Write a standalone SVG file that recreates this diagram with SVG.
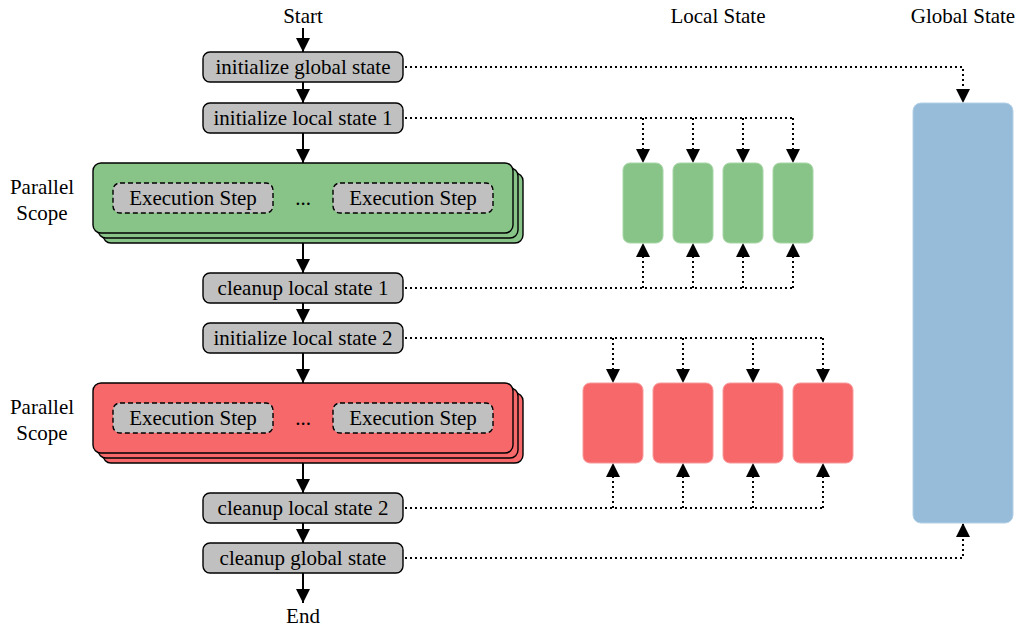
<svg xmlns="http://www.w3.org/2000/svg" width="1019" height="628" viewBox="0 0 1019 628">
  <style>
    text { font-family: "Liberation Serif", "DejaVu Serif", serif; font-size: 21px; fill: #000; }
    .c { text-anchor: middle; }
    .step { fill: #c0c0c0; stroke: #000; stroke-width: 1.4; }
    .exec { fill: #c0c0c0; stroke: #000; stroke-width: 1.4; stroke-dasharray: 5 3; }
    .scope-g { fill: #88c488; stroke: #000; stroke-width: 1.4; }
    .scope-r { fill: #f6686a; stroke: #000; stroke-width: 1.4; }
    .loc-g { fill: #88c488; stroke: #a6d6a6; stroke-width: 1; }
    .loc-r { fill: #f6686a; stroke: #f89a9a; stroke-width: 1; }
    .glob { fill: #96bcd9; stroke: #b2d0e6; stroke-width: 1; }
    .flow { fill: none; stroke: #000; stroke-width: 2; }
    .dot { fill: none; stroke: #000; stroke-width: 2; stroke-dasharray: 2 3; }
  </style>
  <defs>
    <!-- filled triangular arrowhead shared by all connectors -->
    <marker id="head" viewBox="0 0 10 10" refX="10" refY="5" markerWidth="14" markerHeight="14" markerUnits="userSpaceOnUse" orient="auto">
      <path d="M0,0 L10,5 L0,10 Z" fill="#000"/>
    </marker>
  </defs>

  <!-- headings -->
  <text class="c" x="303" y="23">Start</text>
  <text class="c" x="303" y="623">End</text>
  <text class="c" x="718" y="23">Local State</text>
  <text class="c" x="963" y="23">Global State</text>

  <!-- connectors -->
  <g id="connectors">
    <!-- main control flow -->
    <path class="flow" d="M303,28 V52" marker-end="url(#head)"/>
    <path class="flow" d="M303,82 V103" marker-end="url(#head)"/>
    <path class="flow" d="M303,133 V163" marker-end="url(#head)"/>
    <path class="flow" d="M303,243 V273" marker-end="url(#head)"/>
    <path class="flow" d="M303,303 V323" marker-end="url(#head)"/>
    <path class="flow" d="M303,353 V383" marker-end="url(#head)"/>
    <path class="flow" d="M303,463 V493" marker-end="url(#head)"/>
    <path class="flow" d="M303,523 V543" marker-end="url(#head)"/>
    <path class="flow" d="M303,573 V603" marker-end="url(#head)"/>

    <!-- global state links -->
    <path class="dot" d="M405,67 H963 V103" marker-end="url(#head)"/>
    <path class="dot" d="M405,558 H963 V523" marker-end="url(#head)"/>

    <!-- local state 1 links -->
    <path class="dot" d="M405,118 H793"/>
    <path class="dot" d="M643,118 V163" marker-end="url(#head)"/>
    <path class="dot" d="M693,118 V163" marker-end="url(#head)"/>
    <path class="dot" d="M743,118 V163" marker-end="url(#head)"/>
    <path class="dot" d="M793,118 V163" marker-end="url(#head)"/>
    <path class="dot" d="M405,288 H793"/>
    <path class="dot" d="M643,288 V243" marker-end="url(#head)"/>
    <path class="dot" d="M693,288 V243" marker-end="url(#head)"/>
    <path class="dot" d="M743,288 V243" marker-end="url(#head)"/>
    <path class="dot" d="M793,288 V243" marker-end="url(#head)"/>

    <!-- local state 2 links -->
    <path class="dot" d="M405,338 H823"/>
    <path class="dot" d="M613,338 V383" marker-end="url(#head)"/>
    <path class="dot" d="M683,338 V383" marker-end="url(#head)"/>
    <path class="dot" d="M753,338 V383" marker-end="url(#head)"/>
    <path class="dot" d="M823,338 V383" marker-end="url(#head)"/>
    <path class="dot" d="M405,508 H823"/>
    <path class="dot" d="M613,508 V463" marker-end="url(#head)"/>
    <path class="dot" d="M683,508 V463" marker-end="url(#head)"/>
    <path class="dot" d="M753,508 V463" marker-end="url(#head)"/>
    <path class="dot" d="M823,508 V463" marker-end="url(#head)"/>
  </g>

  <!-- sequential steps -->
  <g id="init-global">
    <rect class="step" x="203" y="52" width="200" height="30" rx="7"/>
    <text class="c" x="303" y="74">initialize global state</text>
  </g>
  <g id="init-local-1">
    <rect class="step" x="203" y="103" width="200" height="30" rx="7"/>
    <text class="c" x="303" y="125">initialize local state 1</text>
  </g>
  <g id="cleanup-local-1">
    <rect class="step" x="203" y="273" width="200" height="30" rx="7"/>
    <text class="c" x="303" y="295">cleanup local state 1</text>
  </g>
  <g id="init-local-2">
    <rect class="step" x="203" y="323" width="200" height="30" rx="7"/>
    <text class="c" x="303" y="345">initialize local state 2</text>
  </g>
  <g id="cleanup-local-2">
    <rect class="step" x="203" y="493" width="200" height="30" rx="7"/>
    <text class="c" x="303" y="515">cleanup local state 2</text>
  </g>
  <g id="cleanup-global">
    <rect class="step" x="203" y="543" width="200" height="30" rx="7"/>
    <text class="c" x="303" y="565">cleanup global state</text>
  </g>

  <!-- parallel scope 1 -->
  <g id="scope-1">
    <text class="c" x="42" y="194">Parallel</text>
    <text class="c" x="42" y="220">Scope</text>
    <rect class="scope-g" x="103" y="173" width="420" height="70" rx="8"/>
    <rect class="scope-g" x="98" y="168" width="420" height="70" rx="8"/>
    <rect class="scope-g" x="93" y="163" width="420" height="70" rx="8"/>
    <rect class="exec" x="113" y="183" width="160" height="30" rx="7"/>
    <text class="c" x="193" y="205">Execution Step</text>
    <text class="c" x="303" y="205">...</text>
    <rect class="exec" x="333" y="183" width="160" height="30" rx="7"/>
    <text class="c" x="413" y="205">Execution Step</text>
  </g>

  <!-- parallel scope 2 -->
  <g id="scope-2">
    <text class="c" x="42" y="414">Parallel</text>
    <text class="c" x="42" y="440">Scope</text>
    <rect class="scope-r" x="103" y="393" width="420" height="70" rx="8"/>
    <rect class="scope-r" x="98" y="388" width="420" height="70" rx="8"/>
    <rect class="scope-r" x="93" y="383" width="420" height="70" rx="8"/>
    <rect class="exec" x="113" y="403" width="160" height="30" rx="7"/>
    <text class="c" x="193" y="425">Execution Step</text>
    <text class="c" x="303" y="425">...</text>
    <rect class="exec" x="333" y="403" width="160" height="30" rx="7"/>
    <text class="c" x="413" y="425">Execution Step</text>
  </g>

  <!-- local state 1 slots -->
  <g id="local-1">
    <rect class="loc-g" x="623" y="163" width="40" height="80" rx="7"/>
    <rect class="loc-g" x="673" y="163" width="40" height="80" rx="7"/>
    <rect class="loc-g" x="723" y="163" width="40" height="80" rx="7"/>
    <rect class="loc-g" x="773" y="163" width="40" height="80" rx="7"/>
  </g>

  <!-- local state 2 slots -->
  <g id="local-2">
    <rect class="loc-r" x="583" y="383" width="60" height="80" rx="7"/>
    <rect class="loc-r" x="653" y="383" width="60" height="80" rx="7"/>
    <rect class="loc-r" x="723" y="383" width="60" height="80" rx="7"/>
    <rect class="loc-r" x="793" y="383" width="60" height="80" rx="7"/>
  </g>

  <!-- global state -->
  <g id="global-state">
    <rect class="glob" x="913" y="103" width="100" height="420" rx="8"/>
  </g>
</svg>
